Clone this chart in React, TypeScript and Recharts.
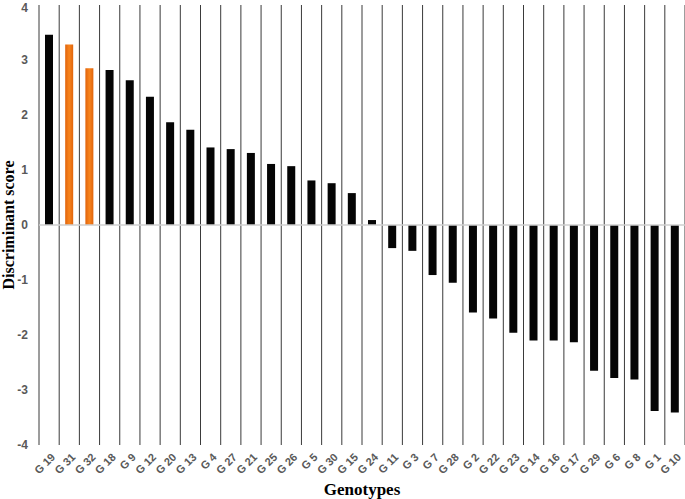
import React from "react";
import {
	BarChart,
	Bar,
	Cell,
	XAxis,
	YAxis,
	CartesianGrid,
	ReferenceLine,
} from "recharts";

const genotypes = [
	"G 19", "G 31", "G 32", "G 18", "G 9", "G 12", "G 20", "G 13",
	"G 4", "G 27", "G 21", "G 25", "G 26", "G 5", "G 30", "G 15",
	"G 24", "G 11", "G 3", "G 7", "G 28", "G 2", "G 22", "G 23",
	"G 14", "G 16", "G 17", "G 29", "G 6", "G 8", "G 1", "G 10",
];

const scores = [
	3.46, 3.28, 2.85, 2.82, 2.63, 2.33, 1.87, 1.73,
	1.41, 1.38, 1.31, 1.11, 1.07, 0.81, 0.76, 0.58,
	0.09, -0.42, -0.47, -0.91, -1.05, -1.59, -1.7, -1.96,
	-2.1, -2.1, -2.13, -2.65, -2.78, -2.81, -3.38, -3.41,
];

const highlighted = ["G 31", "G 32"];
const yTicks = [-4, -3, -2, -1, 0, 1, 2, 3, 4];

const data = genotypes.map((g, i) => ({ genotype: g, score: scores[i] }));

const GenotypeTick = (props: any) => {
	const { x, y, payload } = props;
	return (
		<g transform={`translate(${x + 4},${y + 2})`}>
			<text
				textAnchor="end"
				transform="rotate(-45)"
				fontFamily="Liberation Sans, Arial, sans-serif"
				fontWeight="bold"
				fontSize={11}
				fill="#595959"
				dy={4}
			>
				{payload.value}
			</text>
		</g>
	);
};

export default function App() {
	return (
		<div style={{ position: "absolute", left: 0, top: 0, background: "#fff" }}>
			<BarChart
				width={685}
				height={499}
				data={data}
				margin={{ top: 5, right: 0, left: 0, bottom: 0 }}
				barSize={8}
			>
				<defs>
					<linearGradient id="orangeBar" x1="0" y1="0" x2="1" y2="0">
						<stop offset="0%" stopColor="#e0640c" />
						<stop offset="50%" stopColor="#f8841e" />
						<stop offset="100%" stopColor="#e0640c" />
					</linearGradient>
				</defs>
				<CartesianGrid
					horizontal={false}
					stroke="#3a3a3a"
					strokeWidth={1}
					verticalCoordinatesGenerator={({ offset }: any) =>
						Array.from(
							{ length: genotypes.length + 1 },
							(_, i) => offset.left + (i * offset.width) / genotypes.length
						)
					}
				/>
				<XAxis
					dataKey="genotype"
					interval={0}
					height={54}
					axisLine={false}
					tickLine={false}
					tick={<GenotypeTick />}
					label={{
						value: "Genotypes",
						position: "insideBottom",
						offset: 4,
						style: {
							fontFamily: "Liberation Serif, Times New Roman, serif",
							fontWeight: "bold",
							fontSize: 17,
							fill: "#000",
						},
					}}
				/>
				<YAxis
					width={39}
					domain={[-4, 4]}
					ticks={yTicks}
					axisLine={false}
					tickLine={false}
					tickMargin={5}
					tick={{
						fontFamily: "Liberation Sans, Arial, sans-serif",
						fontWeight: "bold",
						fontSize: 12,
						fill: "#595959",
					}}
					label={{
						value: "Discriminant score",
						angle: -90,
						position: "insideLeft",
						offset: 8,
						style: {
							textAnchor: "middle",
							fontFamily: "Liberation Serif, Times New Roman, serif",
							fontWeight: "bold",
							fontSize: 16,
							fill: "#000",
						},
					}}
				/>
				<ReferenceLine y={0} stroke="#cfcfcf" strokeWidth={1.5} />
				<Bar dataKey="score" isAnimationActive={false}>
					{data.map((d) => (
						<Cell
							key={d.genotype}
							fill={highlighted.includes(d.genotype) ? "url(#orangeBar)" : "#050505"}
						/>
					))}
				</Bar>
			</BarChart>
		</div>
	);
}
